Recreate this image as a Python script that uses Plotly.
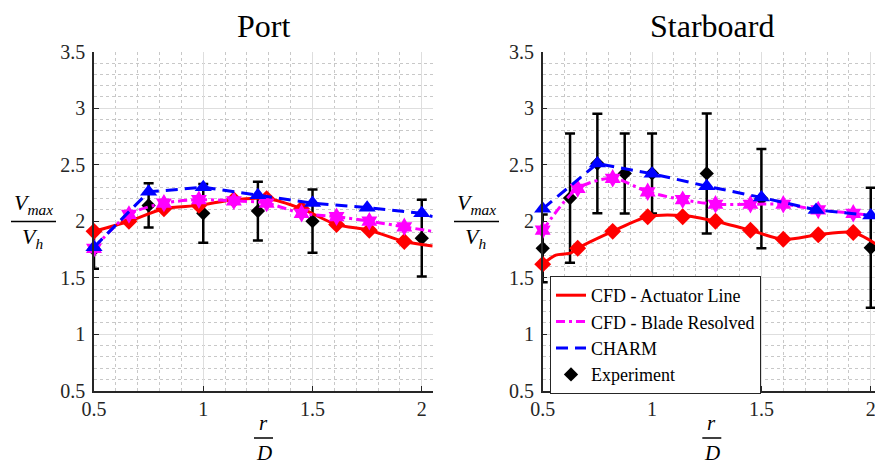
import plotly.graph_objects as go

# ---------------- data ----------------
# Port
port_al_x = [0.5, 0.66, 0.82, 0.98, 1.14, 1.29, 1.45, 1.61, 1.76, 1.92, 2.05]
port_al_y = [1.91, 2.00, 2.11, 2.14, 2.19, 2.20, 2.11, 1.97, 1.92, 1.82, 1.78]
port_al_mx = [0.5, 0.66, 0.82, 0.98, 1.14, 1.29, 1.45, 1.61, 1.76, 1.92]
port_al_my = [1.91, 2.00, 2.11, 2.14, 2.19, 2.20, 2.11, 1.97, 1.92, 1.82]

port_br_x = [0.5, 0.66, 0.82, 0.98, 1.14, 1.29, 1.45, 1.61, 1.76, 1.92, 2.05]
port_br_y = [1.76, 2.06, 2.16, 2.19, 2.18, 2.16, 2.07, 2.04, 2.00, 1.95, 1.91]
port_br_mx = [0.5, 0.66, 0.82, 0.98, 1.14, 1.29, 1.45, 1.61, 1.76, 1.92]
port_br_my = [1.76, 2.06, 2.16, 2.19, 2.18, 2.16, 2.07, 2.04, 2.00, 1.95]

port_ch_x = [0.5, 0.75, 1.0, 1.25, 1.5, 1.75, 2.0, 2.05]
port_ch_y = [1.77, 2.26, 2.30, 2.23, 2.16, 2.12, 2.07, 2.04]
port_ch_mx = [0.5, 0.75, 1.0, 1.25, 1.5, 1.75, 2.0]
port_ch_my = [1.77, 2.26, 2.30, 2.23, 2.16, 2.12, 2.07]

port_ex_x = [0.5, 0.75, 1.0, 1.25, 1.5, 2.0]
port_ex_y = [1.75, 2.14, 2.07, 2.09, 2.00, 1.85]
port_ex_err = [0.17, 0.195, 0.26, 0.26, 0.28, 0.34]

# Starboard
stb_al_x = [0.5, 0.56, 0.60, 0.63, 0.66, 0.82, 0.98, 1.14, 1.29, 1.45, 1.60, 1.76, 1.92, 2.03]
stb_al_y = [1.62, 1.70, 1.71, 1.72, 1.76, 1.91, 2.04, 2.05, 2.00, 1.92, 1.84, 1.88, 1.90, 1.79]
stb_al_mx = [0.5, 0.66, 0.82, 0.98, 1.14, 1.29, 1.45, 1.60, 1.76, 1.92]
stb_al_my = [1.62, 1.76, 1.91, 2.04, 2.04, 2.00, 1.92, 1.84, 1.88, 1.90]

stb_br_x = [0.5, 0.66, 0.82, 0.98, 1.14, 1.29, 1.45, 1.60, 1.76, 1.92, 2.03]
stb_br_y = [1.92, 2.29, 2.38, 2.26, 2.19, 2.15, 2.15, 2.15, 2.10, 2.07, 2.045]
stb_br_mx = [0.5, 0.66, 0.82, 0.98, 1.14, 1.29, 1.45, 1.60, 1.76, 1.92]
stb_br_my = [1.92, 2.29, 2.38, 2.26, 2.19, 2.15, 2.15, 2.15, 2.10, 2.07]

stb_ch_x = [0.5, 0.75, 1.0, 1.25, 1.5, 1.75, 2.0, 2.03]
stb_ch_y = [2.11, 2.51, 2.42, 2.31, 2.21, 2.10, 2.05, 2.04]
stb_ch_mx = [0.5, 0.75, 1.0, 1.25, 1.5, 1.75, 2.0]
stb_ch_my = [2.11, 2.51, 2.42, 2.31, 2.21, 2.10, 2.05]

stb_ex_x = [0.5, 0.625, 0.75, 0.875, 1.0, 1.25, 1.5, 2.0]
stb_ex_y = [1.76, 2.205, 2.51, 2.423, 2.423, 2.423, 2.20, 1.765]
stb_ex_err = [0.30, 0.572, 0.44, 0.354, 0.354, 0.531, 0.44, 0.53]

titles = ["Port", "Starboard"]
legend_names = ["CFD - Actuator Line", "CFD - Blade Resolved", "CHARM", "Experiment"]
x_ticks = [0.5, 1, 1.5, 2]
y_ticks = [0.5, 1, 1.5, 2, 2.5, 3, 3.5]

# ---------------- styling ----------------
W, H = 875, 460
SERIF = "Liberation Serif, Times New Roman, serif"
RED, MAG, BLUE, BLK = "#ff0000", "#ff00ff", "#0000ff", "#000000"
AX = "#262626"

fig = go.Figure()


def add_panel(xa, ya, al, br, ch, ex, show_legend):
    (alx, aly, almx, almy) = al
    (brx, bry, brmx, brmy) = br
    (chx, chy, chmx, chmy) = ch
    (exx, exy, exe) = ex
    # experiment first (drawn beneath)
    fig.add_trace(go.Scatter(
        x=exx, y=exy, mode="markers", name=legend_names[3], legendrank=4,
        showlegend=show_legend, xaxis=xa, yaxis=ya, cliponaxis=False,
        marker=dict(symbol="diamond", size=11, color=BLK),
        error_y=dict(type="data", array=exe, visible=True, color=BLK,
                     thickness=2.5, width=5)))
    # actuator line
    fig.add_trace(go.Scatter(
        x=alx, y=aly, mode="lines", name=legend_names[0], legendrank=1,
        showlegend=show_legend, xaxis=xa, yaxis=ya,
        line=dict(color=RED, width=3, shape="spline", smoothing=0.8)))
    fig.add_trace(go.Scatter(
        x=almx, y=almy, mode="markers", showlegend=False, xaxis=xa, yaxis=ya,
        cliponaxis=False, marker=dict(symbol="diamond", size=13, color=RED)))
    # blade resolved
    fig.add_trace(go.Scatter(
        x=brx, y=bry, mode="lines", name=legend_names[1], legendrank=2,
        showlegend=show_legend, xaxis=xa, yaxis=ya,
        line=dict(color=MAG, width=3, shape="spline", smoothing=0.8,
                  dash="9px,4px,3px,4px")))
    fig.add_trace(go.Scatter(
        x=brmx, y=brmy, mode="markers", showlegend=False, xaxis=xa, yaxis=ya,
        cliponaxis=False, marker=dict(symbol="hexagram", size=14, color=MAG)))
    # CHARM
    fig.add_trace(go.Scatter(
        x=chx, y=chy, mode="lines", name=legend_names[2], legendrank=3,
        showlegend=show_legend, xaxis=xa, yaxis=ya,
        line=dict(color=BLUE, width=3, dash="12px,7px")))
    fig.add_trace(go.Scatter(
        x=chmx, y=chmy, mode="markers", showlegend=False, xaxis=xa, yaxis=ya,
        cliponaxis=False, marker=dict(symbol="triangle-up", size=15, color=BLUE)))


add_panel("x", "y",
          (port_al_x, port_al_y, port_al_mx, port_al_my),
          (port_br_x, port_br_y, port_br_mx, port_br_my),
          (port_ch_x, port_ch_y, port_ch_mx, port_ch_my),
          (port_ex_x, port_ex_y, port_ex_err), False)
add_panel("x2", "y2",
          (stb_al_x, stb_al_y, stb_al_mx, stb_al_my),
          (stb_br_x, stb_br_y, stb_br_mx, stb_br_my),
          (stb_ch_x, stb_ch_y, stb_ch_mx, stb_ch_my),
          (stb_ex_x, stb_ex_y, stb_ex_err), True)

# pixel geometry
px_l1, px_r1 = 94.0, 432.7
px_l2 = 542.7
py_top, py_bot = 51.7, 390.7
ydom = [1 - py_bot / H, 1 - py_top / H]

axis_common = dict(
    showline=True, linecolor=AX, linewidth=1.5, mirror=False,
    ticks="inside", ticklen=5, tickwidth=1, tickcolor=AX,
    showgrid=True, gridcolor="#dedede", gridwidth=1, zeroline=False,
    automargin=False, ticklabeloverflow="allow",
    tickfont=dict(family=SERIF, size=20, color="#262626"),
)
xminor = dict(dtick=0.1, tick0=0.5, showgrid=True, gridcolor="#c8c8c8",
              griddash="dot", gridwidth=1, ticks="")
yminor = dict(dtick=0.1, tick0=0.5, showgrid=True, gridcolor="#c8c8c8",
              griddash="dot", gridwidth=1, ticks="")

fig.update_layout(
    width=W, height=H, margin=dict(l=0, r=0, t=0, b=0, autoexpand=False),
    paper_bgcolor="white", plot_bgcolor="white",
    xaxis=dict(domain=[px_l1 / W, px_r1 / W], range=[0.5, 2.05], anchor="y",
               tickvals=x_ticks, minor=xminor, ticklabelstandoff=0, **axis_common),
    yaxis=dict(domain=ydom, range=[0.5, 3.5], anchor="x",
               tickvals=y_ticks, minor=yminor, ticklabelstandoff=3, **axis_common),
    xaxis2=dict(domain=[px_l2 / W, 1.0], range=[0.5, 0.5 + (W - px_l2) / 218.7],
                anchor="y2", tickvals=x_ticks, minor=xminor, ticklabelstandoff=0,
                **axis_common),
    yaxis2=dict(domain=ydom, range=[0.5, 3.5], anchor="x2",
                tickvals=y_ticks, minor=yminor, ticklabelstandoff=3, **axis_common),
    showlegend=True,
    legend=dict(x=550 / W, y=1 - 276 / H, xanchor="left", yanchor="top",
                bgcolor="white", bordercolor=AX, borderwidth=1,
                font=dict(family=SERIF, size=18, color="black"),
                tracegroupgap=0, traceorder="normal"),
)

annotations = []
shapes = []
# titles
for cx, t in [(263.5, titles[0]), (711.8, titles[1])]:
    annotations.append(dict(x=cx / W, y=1 - 26 / H, xref="paper", yref="paper",
                            text=t, showarrow=False, xanchor="center", yanchor="middle",
                            font=dict(family=SERIF, size=32, color="black")))
# y labels (fractions)
for x0, x1 in [(11, 56), (454, 499)]:
    cx = (x0 + x1) / 2
    shapes.append(dict(type="line", xref="paper", yref="paper",
                       x0=x0 / W, x1=x1 / W, y0=1 - 221.5 / H, y1=1 - 221.5 / H,
                       line=dict(color="black", width=1.5)))
    annotations.append(dict(x=cx / W, y=1 - 220 / H, xref="paper", yref="paper",
                            text="<i>V</i><sub><i>max</i></sub>", showarrow=False,
                            xanchor="center", yanchor="bottom",
                            font=dict(family=SERIF, size=22, color="black")))
    annotations.append(dict(x=(cx - 1) / W, y=1 - 222 / H, xref="paper", yref="paper",
                            text="<i>V</i><sub><i>h</i></sub>", showarrow=False,
                            xanchor="center", yanchor="top",
                            font=dict(family=SERIF, size=22, color="black")))
# x labels (fractions)
for cx in [263.5, 711.8]:
    shapes.append(dict(type="line", xref="paper", yref="paper",
                       x0=(cx - 9.5) / W, x1=(cx + 9.5) / W, y0=1 - 438 / H, y1=1 - 438 / H,
                       line=dict(color="black", width=1.5)))
    annotations.append(dict(x=cx / W, y=1 - 437 / H, xref="paper", yref="paper",
                            text="<i>r</i>", showarrow=False,
                            xanchor="center", yanchor="bottom",
                            font=dict(family=SERIF, size=21, color="black")))
    annotations.append(dict(x=cx / W, y=1 - 439 / H, xref="paper", yref="paper",
                            text="<i>D</i>", showarrow=False,
                            xanchor="center", yanchor="top",
                            font=dict(family=SERIF, size=21, color="black")))

fig.update_layout(annotations=annotations, shapes=shapes)
fig.write_html("out.html")
